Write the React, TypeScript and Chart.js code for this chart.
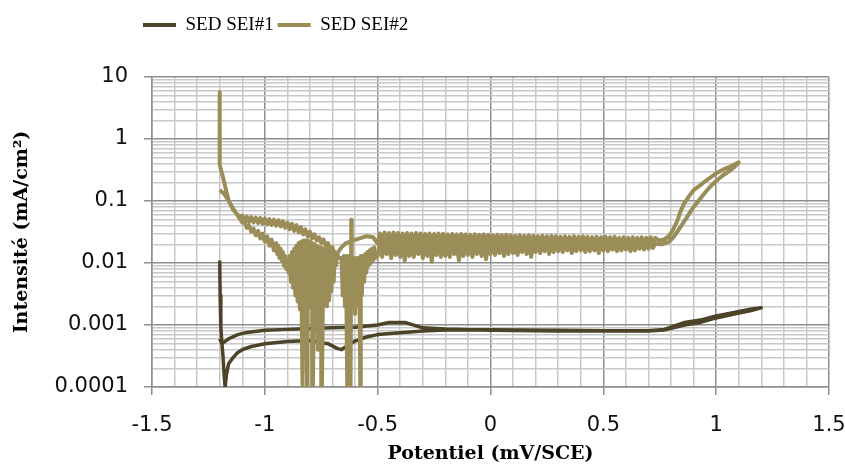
import React, { useEffect, useRef } from "react";
import { Chart, registerables } from "chart.js";

Chart.register(...registerables);

// ---------- Axis ticks ----------
const xTickValues = [
  -1.5, -1.4, -1.3, -1.2, -1.1, -1.0, -0.9, -0.8, -0.7, -0.6, -0.5, -0.4, -0.3, -0.2, -0.1,
  0, 0.1, 0.2, 0.3, 0.4, 0.5, 0.6, 0.7, 0.8, 0.9, 1.0, 1.1, 1.2, 1.3, 1.4, 1.5,
];
const yDecades = [0.0001, 0.001, 0.01, 0.1, 1, 10];
const yDecadeLabels = ["0.0001", "0.001", "0.01", "0.1", "1", "10"];
const yMinorMultipliers = [1, 2, 3, 4, 5, 6, 7, 8, 9];

const seriesNames = ["SED SEI#1", "SED SEI#2"];
const seriesColors = ["#4c4329", "#9a8d58"];

// ---------- SED SEI#1 ----------
const sei1Potential = [
  -1.2, -1.198, -1.195, -1.19, -1.185, -1.18, -1.176, -1.17, -1.16, -1.14, -1.12, -1.1, -1.06, -1.0,
  -0.9, -0.8, -0.72, -0.68, -0.66, -0.64, -0.6, -0.55, -0.5, -0.4, -0.3, -0.2, 0, 0.3, 0.5, 0.7,
  0.77, 0.81, 0.86, 0.93, 1.0, 1.08, 1.15, 1.2,
  1.15, 1.08, 1.0, 0.93, 0.86, 0.81, 0.77, 0.7, 0.5, 0.3, 0, -0.2, -0.3, -0.38, -0.45, -0.5,
  -0.6, -0.7, -0.8, -0.9, -1.0, -1.08, -1.12, -1.16, -1.19, -1.2,
];
const sei1Current = [
  0.011, 0.003, 0.0009, 0.0005, 0.0003, 0.00015, 0.0001, 0.00016, 0.00024, 0.0003, 0.00036, 0.0004, 0.00045, 0.0005,
  0.00054, 0.00056, 0.0005, 0.00042, 0.0004, 0.00045, 0.00055, 0.00064, 0.0007, 0.00075, 0.0008, 0.00083, 0.00084, 0.00082, 0.00081, 0.00081,
  0.00085, 0.00095, 0.0011, 0.0012, 0.0014, 0.0016, 0.0018, 0.0019,
  0.0017, 0.0015, 0.0013, 0.0011, 0.001, 0.0009, 0.00083, 0.0008, 0.0008, 0.0008, 0.00082, 0.00086, 0.0009, 0.0011, 0.0011, 0.001,
  0.00092, 0.0009, 0.00088, 0.00085, 0.00082, 0.00076, 0.0007, 0.0006, 0.0005, 0.0006,
];

// ---------- SED SEI#2, forward scan ----------
const sei2CathodicPotential = [
  -1.2, -1.2, -1.19, -1.18, -1.17, -1.16, -1.15, -1.14, -1.13, -1.12, -1.11,
  -1.1, -1.09, -1.08, -1.07, -1.06, -1.05, -1.04, -1.03, -1.02, -1.01,
  -1.0, -0.99, -0.98, -0.97, -0.96, -0.95, -0.94, -0.93, -0.92, -0.91,
  -0.9, -0.89, -0.88, -0.87, -0.86, -0.85, -0.84, -0.83, -0.82, -0.81,
  -0.8, -0.79, -0.78, -0.77, -0.76, -0.75, -0.74, -0.73, -0.72, -0.71,
  -0.7, -0.69, -0.68, -0.67,
];
const sei2CathodicCurrent = [
  5.7, 0.38, 0.28, 0.2, 0.14, 0.1, 0.085, 0.072, 0.065, 0.06, 0.056,
  0.058, 0.048, 0.056, 0.046, 0.055, 0.045, 0.054, 0.044, 0.053, 0.043,
  0.052, 0.042, 0.051, 0.041, 0.05, 0.04, 0.049, 0.039, 0.047, 0.037,
  0.045, 0.035, 0.043, 0.033, 0.041, 0.031, 0.038, 0.029, 0.035, 0.027,
  0.032, 0.025, 0.029, 0.023, 0.026, 0.021, 0.024, 0.019, 0.021, 0.016,
  0.018, 0.013, 0.014, 0.012,
];
const sei2Dip2Potential = [
  -0.66, -0.655, -0.65, -0.645, -0.64, -0.635, -0.63, -0.625, -0.62, -0.617, -0.615, -0.61,
  -0.605, -0.6, -0.595, -0.59, -0.585, -0.58, -0.577, -0.575, -0.57, -0.565, -0.56, -0.555,
  -0.55, -0.545, -0.54, -0.535, -0.53, -0.525, -0.52, -0.515, -0.51,
];
const sei2Dip2Current = [
  0.012, 0.003, 0.013, 0.002, 0.013, 0.0001, 0.013, 0.0018, 0.0001, 0.05, 0.013, 0.002,
  0.012, 0.0015, 0.012, 0.002, 0.012, 0.0025, 0.0001, 0.013, 0.003, 0.013, 0.005, 0.014,
  0.007, 0.015, 0.009, 0.016, 0.01, 0.017, 0.011, 0.018, 0.012,
];
// plateau sampling positions (forward order); the reverse scan runs over them backwards
const sei2PlateauPotential = [
  -0.5, -0.49, -0.48, -0.47, -0.46, -0.45, -0.44, -0.43, -0.42, -0.41,
  -0.4, -0.39, -0.38, -0.37, -0.36, -0.35, -0.34, -0.33, -0.32, -0.31,
  -0.3, -0.29, -0.28, -0.27, -0.26, -0.25, -0.24, -0.23, -0.22, -0.21,
  -0.2, -0.19, -0.18, -0.17, -0.16, -0.15, -0.14, -0.13, -0.12, -0.11,
  -0.1, -0.09, -0.08, -0.07, -0.06, -0.05, -0.04, -0.03, -0.02, -0.01,
  0, 0.01, 0.02, 0.03, 0.04, 0.05, 0.06, 0.07, 0.08, 0.09,
  0.1, 0.11, 0.12, 0.13, 0.14, 0.15, 0.16, 0.17, 0.18, 0.19,
  0.2, 0.21, 0.22, 0.23, 0.24, 0.25, 0.26, 0.27, 0.28, 0.29,
  0.3, 0.31, 0.32, 0.33, 0.34, 0.35, 0.36, 0.37, 0.38, 0.39,
  0.4, 0.41, 0.42, 0.43, 0.44, 0.45, 0.46, 0.47, 0.48, 0.49,
  0.5, 0.51, 0.52, 0.53, 0.54, 0.55, 0.56, 0.57, 0.58, 0.59,
  0.6, 0.61, 0.62, 0.63, 0.64, 0.65, 0.66, 0.67, 0.68, 0.69,
  0.7, 0.71, 0.72, 0.73,
];
const sei2PlateauFwdCurrent = [
  0.013, 0.02, 0.0125, 0.021, 0.014, 0.0195, 0.012, 0.021, 0.0135, 0.02,
  0.0125, 0.021, 0.011, 0.02, 0.013, 0.0215, 0.0125, 0.02, 0.014, 0.021,
  0.012, 0.0205, 0.013, 0.021, 0.0105, 0.02, 0.0135, 0.021, 0.0125, 0.0205,
  0.013, 0.021, 0.0125, 0.02, 0.014, 0.021, 0.011, 0.0205, 0.013, 0.021,
  0.0135, 0.02, 0.0125, 0.021, 0.014, 0.0205, 0.013, 0.021, 0.0115, 0.02,
  0.014, 0.021, 0.0135, 0.0205, 0.0145, 0.021, 0.013, 0.02, 0.014, 0.021,
  0.0145, 0.0205, 0.0135, 0.021, 0.015, 0.02, 0.014, 0.0205, 0.0125, 0.021,
  0.015, 0.0205, 0.0145, 0.021, 0.0155, 0.02, 0.014, 0.0205, 0.015, 0.021,
  0.0155, 0.0205, 0.015, 0.021, 0.016, 0.02, 0.0145, 0.0205, 0.0155, 0.021,
  0.016, 0.0205, 0.015, 0.021, 0.0155, 0.02, 0.016, 0.0205, 0.0145, 0.021,
  0.016, 0.0205, 0.0155, 0.021, 0.0165, 0.02, 0.0155, 0.0205, 0.016, 0.021,
  0.0165, 0.0205, 0.0155, 0.021, 0.016, 0.0205, 0.017, 0.021, 0.0165, 0.0205,
  0.017, 0.021, 0.0175, 0.0205,
];
const sei2AnodicFwdPotential = [
  0.76, 0.79, 0.81, 0.835, 0.857, 0.88, 0.9, 0.93, 0.96, 0.98, 1.0, 1.03, 1.05, 1.08, 1.1,
];
const sei2AnodicFwdCurrent = [
  0.02, 0.022, 0.026, 0.035, 0.046, 0.062, 0.08, 0.11, 0.15, 0.18, 0.21, 0.26, 0.29, 0.35, 0.42,
];

// ---------- SED SEI#2, reverse scan ----------
const sei2AnodicRevPotential = [
  1.07, 1.03, 1.0, 0.96, 0.93, 0.9, 0.88, 0.857, 0.84, 0.83, 0.81, 0.79, 0.77, 0.745,
];
const sei2AnodicRevCurrent = [
  0.37, 0.32, 0.28, 0.22, 0.18, 0.15, 0.12, 0.09, 0.065, 0.05, 0.035, 0.027, 0.024, 0.023,
];
// listed from +0.73 V down to -0.5 V
const sei2PlateauRevCurrent = [
  0.0255, 0.0195, 0.026, 0.02, 0.0255, 0.0195, 0.026, 0.02, 0.0255, 0.0195,
  0.026, 0.02, 0.0255, 0.0195, 0.026, 0.02, 0.0255, 0.0195, 0.0265, 0.02,
  0.026, 0.0195, 0.0265, 0.02, 0.026, 0.0195, 0.0265, 0.02, 0.026, 0.0195,
  0.0265, 0.02, 0.027, 0.0195, 0.0265, 0.02, 0.027, 0.0195, 0.0265, 0.02,
  0.027, 0.0195, 0.0265, 0.02, 0.027, 0.0195, 0.0275, 0.02, 0.027, 0.0195,
  0.0275, 0.02, 0.027, 0.0195, 0.0275, 0.02, 0.028, 0.0195, 0.0275, 0.02,
  0.028, 0.0195, 0.0275, 0.02, 0.028, 0.0195, 0.0285, 0.02, 0.028, 0.0195,
  0.0285, 0.02, 0.028, 0.0195, 0.0285, 0.02, 0.029, 0.0195, 0.0285, 0.02,
  0.029, 0.0195, 0.0285, 0.02, 0.029, 0.0195, 0.0295, 0.02, 0.029, 0.0195,
  0.0295, 0.02, 0.029, 0.0195, 0.0295, 0.02, 0.03, 0.0195, 0.0295, 0.02,
  0.03, 0.0195, 0.0295, 0.02, 0.03, 0.0195, 0.0305, 0.02, 0.03, 0.0195,
  0.0305, 0.02, 0.03, 0.0195, 0.0305, 0.02, 0.031, 0.0195, 0.0305, 0.02,
  0.031, 0.0195, 0.03, 0.0205,
];
const sei2ReturnPotential = [-0.52, -0.55, -0.58, -0.61, -0.64, -0.66, -0.67];
const sei2ReturnCurrent = [0.026, 0.027, 0.025, 0.023, 0.021, 0.018, 0.016];
const sei2Dip1Potential = [
  -0.68, -0.685, -0.69, -0.695, -0.7, -0.705, -0.71, -0.715, -0.72, -0.725,
  -0.73, -0.735, -0.74, -0.747, -0.75, -0.755, -0.76, -0.765, -0.77, -0.775,
  -0.78, -0.787, -0.79, -0.795, -0.8, -0.805, -0.81, -0.813, -0.82, -0.825,
  -0.83, -0.833, -0.84, -0.845, -0.85, -0.855, -0.86, -0.865, -0.87, -0.875,
  -0.88, -0.885, -0.89, -0.895, -0.9,
];
const sei2Dip1Current = [
  0.014, 0.009, 0.015, 0.005, 0.015, 0.0035, 0.016, 0.0025, 0.016, 0.002,
  0.017, 0.0022, 0.017, 0.0001, 0.018, 0.002, 0.018, 0.0004, 0.019, 0.0022,
  0.02, 0.0001, 0.021, 0.0019, 0.022, 0.0022, 0.023, 0.0001, 0.023, 0.002,
  0.023, 0.0001, 0.022, 0.0018, 0.021, 0.0024, 0.019, 0.003, 0.017, 0.004,
  0.015, 0.005, 0.013, 0.007, 0.011,
];
const sei2CathodicRevPotential = [
  -0.905, -0.91, -0.915, -0.92, -0.925, -0.93, -0.935, -0.94, -0.945, -0.95,
  -0.96, -0.97, -0.98, -0.99, -1.0, -1.01, -1.02, -1.03, -1.04, -1.05,
  -1.06, -1.07, -1.08, -1.09, -1.1, -1.12, -1.14, -1.16, -1.18, -1.2,
];
const sei2CathodicRevCurrent = [
  0.008, 0.013, 0.009, 0.015, 0.011, 0.017, 0.012, 0.019, 0.014, 0.021,
  0.016, 0.024, 0.019, 0.027, 0.022, 0.03, 0.025, 0.033, 0.028, 0.036,
  0.032, 0.04, 0.037, 0.046, 0.045, 0.058, 0.075, 0.1, 0.13, 0.15,
];

const pairs = (xs: number[], ys: number[]) => xs.map((x, i) => ({ x, y: ys[i] }));

const sei1Data = pairs(sei1Potential, sei1Current);
const sei2Data = [
  ...pairs(sei2CathodicPotential, sei2CathodicCurrent),
  ...pairs(sei2Dip2Potential, sei2Dip2Current),
  ...pairs(sei2PlateauPotential, sei2PlateauFwdCurrent),
  ...pairs(sei2AnodicFwdPotential, sei2AnodicFwdCurrent),
  ...pairs(sei2AnodicRevPotential, sei2AnodicRevCurrent),
  ...pairs([...sei2PlateauPotential].reverse(), sei2PlateauRevCurrent),
  ...pairs(sei2ReturnPotential, sei2ReturnCurrent),
  ...pairs(sei2Dip1Potential, sei2Dip1Current),
  ...pairs(sei2CathodicRevPotential, sei2CathodicRevCurrent),
];

const yTickValues = [
  ...yDecades.slice(0, -1).flatMap((d) => yMinorMultipliers.map((m) => +(d * m).toPrecision(6))),
  yDecades[yDecades.length - 1],
];

const isDecade = (v: number) => Math.abs(Math.log10(v) - Math.round(Math.log10(v))) < 1e-6;
const isHalf = (v: number) => Math.abs(v * 2 - Math.round(v * 2)) < 1e-6;

const MAJOR_GRID = "#8e8e8e";
const MINOR_GRID = "#c8c8c8";

// plot-area frame (pixels)
const PLOT_LEFT = 152;
const PLOT_TOP = 77;
const PLOT_RIGHT_GAP = 16;
const X_AXIS_HEIGHT = 82;
const LEGEND_PAD = 4;
const LEGEND_FONT = 19;
const LEGEND_X = 143;
const LEGEND_CY = 25;

const legendPlacer = {
  id: "legendPlacer",
  afterLayout(chart: any) {
    const lg = chart.legend;
    if (lg) {
      lg.left = LEGEND_X - LEGEND_PAD;
      lg.top = LEGEND_CY - LEGEND_PAD - LEGEND_FONT / 2;
    }
  },
};

export default function App() {
  const ref = useRef<HTMLCanvasElement>(null);

  useEffect(() => {
    document.body.style.margin = "0";
    const tickFont = { family: "DejaVu Sans", size: 21 };
    const titleFont = { family: "DejaVu Serif", size: 19, weight: "bold" as const };

    const chart = new Chart(ref.current as HTMLCanvasElement, {
      type: "line",
      data: {
        datasets: [
          {
            label: seriesNames[0],
            data: sei1Data,
            borderColor: seriesColors[0],
            backgroundColor: seriesColors[0],
            borderWidth: 3.5,
            pointRadius: 0,
            tension: 0,
            borderJoinStyle: "round",
            order: 1,
          },
          {
            label: seriesNames[1],
            data: sei2Data,
            borderColor: seriesColors[1],
            backgroundColor: seriesColors[1],
            borderWidth: 4,
            pointRadius: 0,
            tension: 0,
            borderJoinStyle: "round",
            order: 0,
          },
        ],
      },
      options: {
        animation: false,
        responsive: false,
        events: [],
        layout: { padding: { top: PLOT_TOP - 10, right: PLOT_RIGHT_GAP, left: 0, bottom: 0 } },
        plugins: {
          tooltip: { enabled: false },
          legend: {
            display: true,
            position: "top",
            align: "start",
            maxHeight: 10,
            labels: {
              font: { family: "Liberation Serif", size: LEGEND_FONT },
              color: "#000",
              boxWidth: 33,
              boxHeight: 4,
              padding: LEGEND_PAD,
              sort: (a: any, b: any) => a.datasetIndex - b.datasetIndex,
              generateLabels: (c: any) =>
                (Chart.defaults.plugins.legend.labels as any)
                  .generateLabels(c)
                  .map((it: any) => ({ ...it, lineWidth: 0, fillStyle: it.strokeStyle })),
            },
          },
        },
        scales: {
          x: {
            type: "linear",
            min: -1.5,
            max: 1.5,
            afterBuildTicks: (scale: any) => {
              scale.ticks = xTickValues.map((v) => ({ value: v }));
            },
            afterFit: (scale: any) => {
              scale.height = X_AXIS_HEIGHT;
              scale.paddingLeft = 0;
              scale.paddingRight = 0;
            },
            ticks: {
              autoSkip: false,
              maxRotation: 0,
              padding: 18,
              font: tickFont,
              color: "#111",
              callback: (v: any) => (isHalf(Number(v)) ? String(Number(v)) : ""),
            },
            grid: {
              color: (ctx: any) => (ctx.tick && isHalf(ctx.tick.value) ? MAJOR_GRID : MINOR_GRID),
              tickColor: (ctx: any) => (ctx.tick && isHalf(ctx.tick.value) ? MAJOR_GRID : "rgba(0,0,0,0)"),
              tickLength: 8,
              lineWidth: 1.5,
            },
            border: { color: MAJOR_GRID, width: 1.5 },
            title: {
              display: true,
              text: "Potentiel (mV/SCE)",
              font: titleFont,
              color: "#000",
              padding: { top: 0, bottom: 4 },
            },
          },
          y: {
            type: "logarithmic",
            min: 0.0001,
            max: 10,
            afterBuildTicks: (scale: any) => {
              scale.ticks = yTickValues.map((v) => ({ value: v }));
            },
            afterFit: (scale: any) => {
              scale.width = PLOT_LEFT;
              scale.paddingTop = 0;
              scale.paddingBottom = 0;
            },
            ticks: {
              autoSkip: false,
              padding: 16,
              font: tickFont,
              color: "#111",
              callback: (v: any) => {
                const n = Number(v);
                if (!isDecade(n)) return "";
                const idx = yDecades.findIndex((d) => Math.abs(Math.log10(d) - Math.log10(n)) < 1e-6);
                return idx >= 0 ? yDecadeLabels[idx] : "";
              },
            },
            grid: {
              color: (ctx: any) => (ctx.tick && isDecade(ctx.tick.value) ? MAJOR_GRID : MINOR_GRID),
              tickColor: (ctx: any) => (ctx.tick && isDecade(ctx.tick.value) ? MAJOR_GRID : "rgba(0,0,0,0)"),
              tickLength: 8,
              lineWidth: 1.5,
            },
            border: { color: MAJOR_GRID, width: 1.5 },
            title: {
              display: true,
              text: "Intensité (mA/cm²)",
              font: titleFont,
              color: "#000",
              padding: { top: 11, bottom: 0 },
            },
          },
        },
      },
      plugins: [legendPlacer],
    } as any);

    return () => chart.destroy();
  }, []);

  return (
    <div style={{ width: 845, height: 469 }}>
      <canvas ref={ref} width={845} height={469} style={{ display: "block" }} />
    </div>
  );
}
